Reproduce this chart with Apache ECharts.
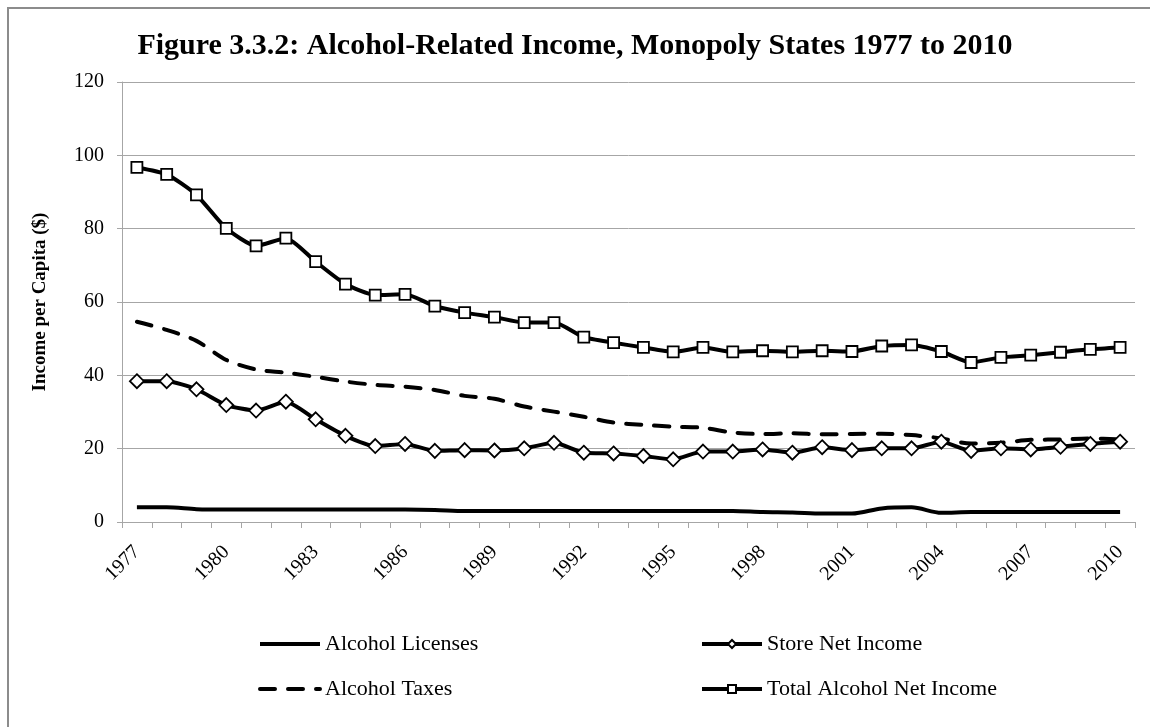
<!DOCTYPE html>
<html>
<head>
<meta charset="utf-8">
<title>Alcohol-Related Income</title>
<script src="https://cdn.jsdelivr.net/npm/echarts@6/dist/echarts.min.js"></script>
<style>
  html, body { margin: 0; padding: 0; background: #fff; }
  #chart { width: 1150px; height: 727px; }
</style>
</head>
<body>
<div id="chart"></div>
<script>
// years 1977..2010
const years = ['1977', '1978', '1979', '1980', '1981', '1982', '1983', '1984', '1985', '1986',
  '1987', '1988', '1989', '1990', '1991', '1992', '1993', '1994', '1995', '1996',
  '1997', '1998', '1999', '2000', '2001', '2002', '2003', '2004', '2005', '2006',
  '2007', '2008', '2009', '2010']

// values ($ per capita)
const alcoholLicenses = [4.0, 4.0, 3.5, 3.4, 3.4, 3.4, 3.4, 3.4, 3.4, 3.4,
  3.3, 3.0, 3.0, 3.0, 3.0, 3.0, 3.0, 3.0, 3.0, 3.0,
  3.0, 2.7, 2.6, 2.3, 2.3, 3.7, 4.0, 2.5, 2.7, 2.7,
  2.7, 2.7, 2.7, 2.7]

const alcoholTaxes = [54.6, 52.4, 49.4, 44.2, 41.6, 40.7, 39.6, 38.3, 37.4, 36.9,
  36.0, 34.4, 33.6, 31.5, 30.1, 28.7, 27.1, 26.5, 26.0, 25.7,
  24.4, 24.0, 24.2, 23.9, 24.0, 24.1, 23.7, 22.8, 21.4, 21.6,
  22.4, 22.5, 22.8, 22.5]

const storeNetIncome = [38.4, 38.4, 36.2, 31.9, 30.4, 32.8, 28.0, 23.5, 20.7, 21.3,
  19.4, 19.6, 19.5, 20.1, 21.6, 18.9, 18.7, 18.0, 17.1, 19.2,
  19.2, 19.8, 18.9, 20.4, 19.6, 20.1, 20.1, 21.9, 19.4, 20.1,
  19.8, 20.5, 21.3, 21.9]

const totalNetIncome = [96.7, 94.8, 89.2, 80.1, 75.3, 77.4, 71.0, 64.9, 61.9, 62.1,
  58.9, 57.1, 55.9, 54.4, 54.4, 50.4, 48.9, 47.6, 46.4, 47.6,
  46.4, 46.7, 46.4, 46.7, 46.5, 48.0, 48.3, 46.5, 43.5, 44.9,
  45.5, 46.3, 47.1, 47.6]

const yTicks = { min: 0, max: 120, interval: 20 }

const chart = echarts.init(document.getElementById('chart'))

const serif = 'Liberation Serif, Times New Roman, serif'
const gridGray = '#a6a6a6'

const legendBase = {
  orient: 'vertical',
  top: 633,
  padding: 0,
  itemWidth: 60,
  itemHeight: 10,
  itemGap: 23,
  lineStyle: { width: 4 },
  textStyle: { fontFamily: serif, fontSize: 22, color: '#000' }
}

const option = {
  backgroundColor: '#fff',
  animation: false,
  graphic: [{
    type: 'rect',
    shape: { x: 8, y: 8, width: 1200, height: 800 },
    style: { fill: 'none', stroke: '#8c8c8c', lineWidth: 2 },
    silent: true
  }],
  title: {
    text: 'Figure 3.3.2: Alcohol-Related Income, Monopoly States 1977 to 2010',
    left: 'center',
    top: 31,
    padding: 0,
    textStyle: { fontFamily: serif, fontWeight: 'bold', fontSize: 30, color: '#000' }
  },
  legend: [
    Object.assign({}, legendBase, {
      left: 258,
      data: [
        { name: 'Alcohol Licenses', itemStyle: { opacity: 0 } },
        { name: 'Alcohol Taxes', itemStyle: { opacity: 0 } }
      ]
    }),
    Object.assign({}, legendBase, {
      left: 700,
      data: ['Store Net Income', 'Total Alcohol Net Income']
    })
  ],
  grid: { left: 122, right: 15, top: 82, bottom: 205, containLabel: false },
  xAxis: {
    type: 'category',
    data: years,
    boundaryGap: true,
    axisLine: { lineStyle: { color: gridGray, width: 1 } },
    axisTick: { show: true, interval: 0, length: 6, lineStyle: { color: gridGray } },
    axisLabel: {
      interval: 2,
      rotate: 45,
      margin: 27,
      fontFamily: serif,
      fontSize: 20,
      color: '#000'
    },
    splitLine: { show: false }
  },
  yAxis: {
    type: 'value',
    min: yTicks.min,
    max: yTicks.max,
    interval: yTicks.interval,
    name: 'Income per Capita ($)',
    nameLocation: 'middle',
    nameGap: 72,
    nameTextStyle: { fontFamily: serif, fontWeight: 'bold', fontSize: 19, color: '#000' },
    axisLine: { show: true, lineStyle: { color: gridGray, width: 1 } },
    axisTick: { show: true, length: 5, lineStyle: { color: gridGray } },
    axisLabel: { margin: 18, fontFamily: serif, fontSize: 20, color: '#000' },
    splitLine: { show: true, lineStyle: { color: gridGray, width: 1 } }
  },
  series: [
    {
      name: 'Alcohol Licenses',
      type: 'line',
      data: alcoholLicenses,
      smooth: 0.3,
      showSymbol: false,
      symbol: 'none',
      itemStyle: { color: '#000' },
      lineStyle: { color: '#000', width: 4 }
    },
    {
      name: 'Alcohol Taxes',
      type: 'line',
      data: alcoholTaxes,
      smooth: 0.3,
      showSymbol: false,
      symbol: 'none',
      itemStyle: { color: '#000' },
      lineStyle: { color: '#000', width: 4, type: [15, 13], cap: 'round' }
    },
    {
      name: 'Store Net Income',
      type: 'line',
      data: storeNetIncome,
      smooth: 0.2,
      symbol: 'diamond',
      symbolSize: 14,
      itemStyle: { color: '#fff', borderColor: '#000', borderWidth: 1.8 },
      lineStyle: { color: '#000', width: 4 }
    },
    {
      name: 'Total Alcohol Net Income',
      type: 'line',
      data: totalNetIncome,
      smooth: 0.2,
      symbol: 'rect',
      symbolSize: 11,
      itemStyle: { color: '#fff', borderColor: '#000', borderWidth: 1.8 },
      lineStyle: { color: '#000', width: 4 }
    }
  ]
}

chart.setOption(option)
</script>
</body>
</html>
